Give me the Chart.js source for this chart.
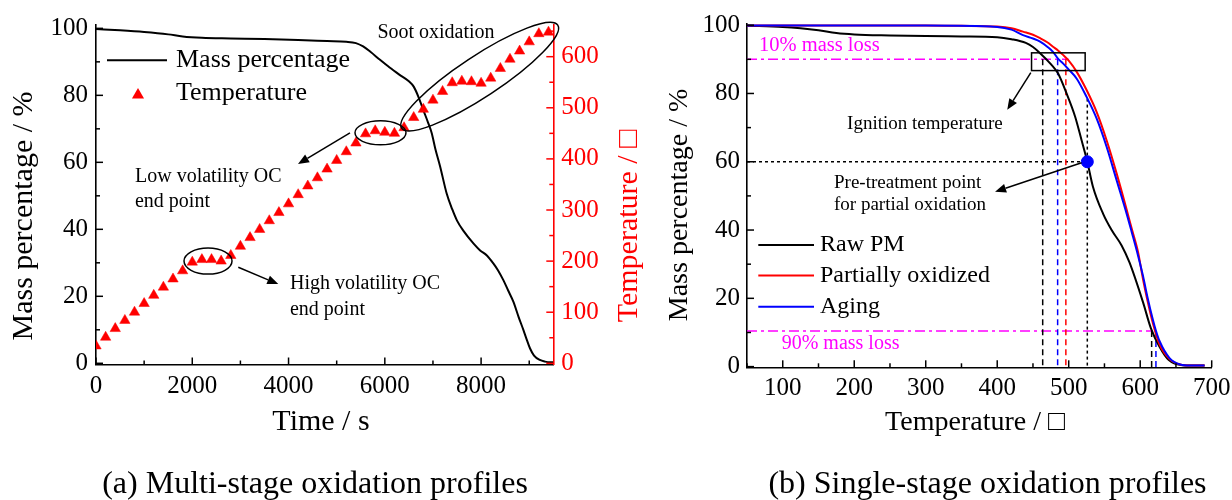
<!DOCTYPE html>
<html><head><meta charset="utf-8">
<script src="https://cdn.jsdelivr.net/npm/chart.js@4.4.1/dist/chart.umd.min.js"></script>
<style>
html,body{margin:0;padding:0;background:#fff;}
#wrap{position:relative;width:1232px;height:500px;background:#fff;}
canvas{position:absolute;left:0;top:0;}
</style></head><body>
<div id="wrap"><canvas id="ca" width="1232" height="500"></canvas><canvas id="cb" width="1232" height="500"></canvas></div>
<script>
// ---------- Panel (a): multi-stage oxidation ----------
const massTime  = [0,500,1000,1500,1800,2200,2800,3500,4200,4800,5200,5400,5550,5700,5900,6100,6300,6500,6600,6700,6800,6900,6975,7050,7150,7285,7400,7500,7630,7840,7980,8120,8250,8350,8460,8560,8670,8780,8880,8950,9015,9100,9220,9330,9430,9500];
const massValue = [99.8,99.4,98.9,98.2,97.6,97.2,97.0,96.8,96.5,96.2,96.0,95.6,94.6,93.0,90.6,88.3,86.2,84.2,82.6,79.5,75.6,71.8,68.7,64.0,58.7,50.7,46.0,42.6,39.6,35.8,33.7,32.2,29.9,27.8,24.9,21.8,18.4,13.8,9.9,7.0,4.5,2.3,1.0,0.5,0.3,0.3];
const tempTime  = [0,200,400,600,800,1000,1200,1400,1600,1800,2000,2200,2400,2600,2800,3000,3200,3400,3600,3800,4000,4200,4400,4600,4800,5000,5200,5400,5600,5800,6000,6200,6400,6600,6800,7000,7200,7400,7600,7800,8000,8200,8400,8600,8800,9000,9200,9400];
const tempValue = [34,51,68,84,100,117,133,149,165,181,198,203,203,200,211,229,246,262,279,295,312,330,347,363,380,397,414,431,449,455,452,450,461,481,497,515,532,549,552,551,548,558,577,595,611,629,645,648];
const timeTicks = [0,2000,4000,6000,8000];

// ---------- Panel (b): single-stage oxidation ----------
const rawTemp    = [50,100,125,150,175,200,250,300,350,400,420,440,450,460,475,485,497,509,518,526,534,548,560,574,585,604,615,627,640,659,680,690];
const rawMass    = [99.85,99.5,99.1,98.5,97.7,97.3,97.0,96.8,96.7,96.5,95.9,94.8,93.6,91.8,88.6,85.9,80.0,73.2,66.3,60.0,52.6,44.8,40.0,35.5,30.5,18.8,11.2,5.8,1.9,0.4,0.3,0.3];
const partTemp   = [50,200,300,350,400,420,436,450,460,470,478,485,492,500,511,525,539,553,567,581,588,597,604,610,618,627,641,656,670,690];
const partMass   = [99.9,99.9,99.9,99.8,99.6,99.1,98.1,97.2,96.2,95.0,93.7,92.6,91.3,89.6,86.4,81.0,74.6,66.3,56.6,46.0,40.5,33.5,25.5,19.5,12.5,6.5,2.2,0.6,0.3,0.3];
const agingTemp  = [50,200,300,400,420,436,450,460,470,478,485,492,500,511,525,539,553,567,581,588,597,604,610,618,622,627,641,656,670,690];
const agingMass  = [99.9,99.9,99.9,99.5,98.7,97.1,96.1,95.2,93.7,92.2,90.2,88.8,87.0,84.4,79.0,72.7,64.4,54.6,44.8,39.5,32.5,26.5,20.5,13.5,10.5,7.5,2.5,0.6,0.3,0.3];
const lossLevels = [90, 10.4];          // 10% and 90% mass loss
const ignitionT  = [463.6, 496, 484.5]; // Raw PM, Partially oxidized, Aging
const burnoutT   = [616, 622];          // Raw PM, Aging
const pretreatPoint = [526, 60];
const tempTicks  = [100,200,300,400,500,600,700];

const SERIF = '"Liberation Serif","Times New Roman",serif';
const F = s => s + 'px ' + SERIF;
const BLACK='#000000', RED='#ff0000', BLUE='#0000ff', MAGENTA='#ff00ff';
const plain = v => String(v);

function drawTicks(ctx, scale, major, minor, color){
  ctx.save(); ctx.strokeStyle=color; ctx.lineWidth=1.5;
  const i0=Math.ceil(scale.min/minor-1e-9), i1=Math.floor(scale.max/minor+1e-9);
  for(let i=i0;i<=i1;i++){
    const v=i*minor;
    const isMajor=Math.abs(v/major-Math.round(v/major))<1e-6;
    const L=isMajor?7:4, p=scale.getPixelForValue(v);
    ctx.beginPath();
    if(scale.isHorizontal()){ctx.moveTo(p,scale.top);ctx.lineTo(p,scale.top-L);}
    else if(scale.position==='left'){ctx.moveTo(scale.right,p);ctx.lineTo(scale.right+L,p);}
    else {ctx.moveTo(scale.left,p);ctx.lineTo(scale.left-L,p);}
    ctx.stroke();
  }
  ctx.restore();
}
function arrow(ctx,x1,y1,x2,y2){
  const a=Math.atan2(y2-y1,x2-x1), hl=11, hw=4.5;
  const bx=x2-hl*Math.cos(a), by=y2-hl*Math.sin(a);
  ctx.save(); ctx.strokeStyle=BLACK; ctx.fillStyle=BLACK; ctx.lineWidth=1.5;
  ctx.beginPath(); ctx.moveTo(x1,y1); ctx.lineTo(bx,by); ctx.stroke();
  ctx.beginPath(); ctx.moveTo(x2,y2);
  ctx.lineTo(bx+hw*Math.sin(a), by-hw*Math.cos(a));
  ctx.lineTo(bx-hw*Math.sin(a), by+hw*Math.cos(a));
  ctx.closePath(); ctx.fill(); ctx.restore();
}
function text(ctx,t,x,y,size,color,align,base){
  ctx.save(); ctx.font=F(size); ctx.fillStyle=color||BLACK;
  ctx.textAlign=align||'left'; ctx.textBaseline=base||'middle';
  ctx.fillText(t,x,y); ctx.restore();
}
function vtext(ctx,t,x,y,size,color){
  ctx.save(); ctx.translate(x,y); ctx.rotate(-Math.PI/2);
  ctx.font=F(size); ctx.fillStyle=color; ctx.textAlign='center'; ctx.textBaseline='alphabetic';
  ctx.fillText(t,0,0); ctx.restore();
}
function tri(ctx,x,y,r,color){
  ctx.save(); ctx.fillStyle=color; ctx.beginPath();
  ctx.moveTo(x,y-r); ctx.lineTo(x+0.866*r,y+r/2); ctx.lineTo(x-0.866*r,y+r/2);
  ctx.closePath(); ctx.fill(); ctx.restore();
}

const pluginA = {
  id:'decorA',
  afterDraw(chart){
    const {ctx, chartArea:ca, scales:{x,y,y2}} = chart;
    drawTicks(ctx,x,2000,1000,BLACK);
    drawTicks(ctx,y,20,10,BLACK);
    drawTicks(ctx,y2,100,50,RED);
    const X=v=>x.getPixelForValue(v), Y=v=>y.getPixelForValue(v), T=v=>y2.getPixelForValue(v);
    ctx.save(); ctx.strokeStyle=BLACK; ctx.lineWidth=1.5;
    ctx.beginPath(); ctx.ellipse(X(2327),T(200),24,13,0,0,2*Math.PI); ctx.stroke();
    ctx.beginPath(); ctx.ellipse(X(5910),T(451),25.5,12,0,0,2*Math.PI); ctx.stroke();
    ctx.beginPath(); ctx.ellipse(X(7971),T(561),93.5,20.5,-0.583,0,2*Math.PI); ctx.stroke();
    ctx.restore();
    arrow(ctx,X(5276),T(451),X(4196),T(390));
    arrow(ctx,X(2956),T(188),X(3787),T(155));
    text(ctx,'Soot oxidation',X(7063),Y(98.6),20,BLACK,'center');
    text(ctx,'Low volatility OC',X(810),Y(55.7),20);
    text(ctx,'end point',X(810),Y(48.2),20);
    text(ctx,'High volatility OC',X(4030),Y(23.7),20);
    text(ctx,'end point',X(4030),Y(15.9),20);
    const ds=chart.data.datasets;
    ctx.save(); ctx.strokeStyle=BLACK; ctx.lineWidth=2;
    ctx.beginPath(); ctx.moveTo(ca.left+11,60.3); ctx.lineTo(ca.left+71,60.3); ctx.stroke(); ctx.restore();
    text(ctx,ds[0].label,ca.left+80,60.3,26);
    tri(ctx,ca.left+42,95,7,RED);
    text(ctx,ds[1].label,ca.left+80,93,26);
    vtext(ctx,'Mass percentage / %',32,216,30,BLACK);
    vtext(ctx,'Temperature / \u25A1',637,226,30,RED);
    text(ctx,'Time / s',321,430,30,BLACK,'center','alphabetic');
    text(ctx,'(a) Multi-stage oxidation profiles',315,493,32,BLACK,'center','alphabetic');
  }
};

new Chart(document.getElementById('ca'), {
  type:'line',
  data:{datasets:[
    {label:'Mass percentage', data:massTime.map((t,i)=>({x:t,y:massValue[i]})), yAxisID:'y',
     borderColor:BLACK, borderWidth:2, pointRadius:0, cubicInterpolationMode:'monotone', order:2},
    {label:'Temperature', data:tempTime.map((t,i)=>({x:t,y:tempValue[i]})), yAxisID:'y2', showLine:false,
     pointStyle:'triangle', pointRadius:6, pointBackgroundColor:RED, pointBorderColor:RED, pointBorderWidth:0.5, order:1}
  ]},
  options:{
    responsive:false, animation:false, events:[],
    layout:{padding:{top:25,left:0,right:0,bottom:0}},
    plugins:{legend:{display:false}, tooltip:{enabled:false}},
    scales:{
      x:{type:'linear', position:'bottom', min:0, max:9500,
         grid:{display:false, drawTicks:false}, border:{display:true,color:BLACK,width:1.6},
         afterBuildTicks(s){ s.ticks = timeTicks.map(v=>({value:v})); },
         ticks:{padding:7, color:BLACK, font:{family:SERIF,size:25}, maxRotation:0, autoSkip:false, callback:plain},
         afterFit(s){ s.height=500-364.5; s.paddingLeft=0; s.paddingRight=0; }},
      y:{type:'linear', position:'left', min:-0.36, max:101,
         grid:{display:false, drawTicks:false}, border:{display:true,color:BLACK,width:1.6},
         ticks:{stepSize:20, includeBounds:false, padding:8, color:BLACK, font:{family:SERIF,size:25}, callback:plain},
         afterFit(s){ s.width=96; s.paddingTop=0; s.paddingBottom=0; }},
      y2:{type:'linear', position:'right', min:-2.3, max:662,
         grid:{display:false, drawTicks:false}, border:{display:true,color:RED,width:1.6},
         ticks:{stepSize:100, includeBounds:false, padding:8, color:RED, font:{family:SERIF,size:25}, callback:plain},
         afterFit(s){ s.width=1232-553.3; s.paddingTop=0; s.paddingBottom=0; }}
    }
  },
  plugins:[pluginA]
});

const pluginB = {
  id:'decorB',
  afterDraw(chart){
    const {ctx, scales:{x,y}} = chart;
    drawTicks(ctx,x,100,50,BLACK);
    drawTicks(ctx,y,20,10,BLACK);
    const X=v=>x.getPixelForValue(v), Y=v=>y.getPixelForValue(v);
    ctx.save(); ctx.strokeStyle=BLACK; ctx.lineWidth=1.5;
    ctx.strokeRect(X(448),Y(91.9),X(523)-X(448),Y(86.7)-Y(91.9)); ctx.restore();
    arrow(ctx,X(447),Y(86.1),X(414),Y(75.2));
    arrow(ctx,X(518),Y(59.7),X(397),Y(51.2));
    text(ctx,'Ignition temperature',X(190),Y(71.1),19);
    text(ctx,'Pre-treatment point',X(171.7),Y(53.9),19);
    text(ctx,'for partial oxidation',X(171.7),Y(47.3),19);
    text(ctx,'10% mass loss',X(66.8),Y(93.9),20.5,MAGENTA);
    text(ctx,'90% mass loss',X(98.5),Y(6.8),20,MAGENTA);
    const ds=chart.data.datasets, ly=[245,275.5,306.7];
    for(let i=0;i<3;i++){
      ctx.save(); ctx.strokeStyle=ds[i].borderColor; ctx.lineWidth=2;
      ctx.beginPath(); ctx.moveTo(758.3,ly[i]); ctx.lineTo(814,ly[i]); ctx.stroke(); ctx.restore();
      text(ctx,ds[i].label,820,ly[i],24);
    }
    vtext(ctx,'Mass percentage / %',687,205,28,BLACK);
    text(ctx,'Temperature / \u25A1',975,430,28,BLACK,'center','alphabetic');
    text(ctx,'(b) Single-stage oxidation profiles',987.5,493,32,BLACK,'center','alphabetic');
  }
};

const pts=(xs,ys)=>xs.map((v,i)=>({x:v,y:ys[i]}));
const refLine=(data,color,dash,order)=>({label:'', data, borderColor:color, borderWidth:1.5, borderDash:dash, pointRadius:0, order});
const yBottom=-0.2;
new Chart(document.getElementById('cb'), {
  type:'line',
  data:{datasets:[
    {label:'Raw PM', data:pts(rawTemp,rawMass), borderColor:BLACK, borderWidth:2, pointRadius:0, cubicInterpolationMode:'monotone', order:3},
    {label:'Partially oxidized', data:pts(partTemp,partMass), borderColor:RED, borderWidth:2, pointRadius:0, cubicInterpolationMode:'monotone', order:2},
    {label:'Aging', data:pts(agingTemp,agingMass), borderColor:BLUE, borderWidth:2, pointRadius:0, cubicInterpolationMode:'monotone', order:1},
    refLine([{x:50,y:lossLevels[0]},{x:500,y:lossLevels[0]}],MAGENTA,[10,4,3,4],6),
    refLine([{x:50,y:lossLevels[1]},{x:burnoutT[0],y:lossLevels[1]}],MAGENTA,[10,4,3,4],6),
    refLine([{x:ignitionT[0],y:lossLevels[0]},{x:ignitionT[0],y:yBottom}],BLACK,[6,4],5),
    refLine([{x:ignitionT[1],y:lossLevels[0]},{x:ignitionT[1],y:yBottom}],RED,[6,4],5),
    refLine([{x:ignitionT[2],y:lossLevels[0]},{x:ignitionT[2],y:yBottom}],BLUE,[6,4],5),
    refLine([{x:burnoutT[0],y:lossLevels[1]},{x:burnoutT[0],y:yBottom}],BLACK,[6,4],5),
    refLine([{x:burnoutT[1],y:lossLevels[1]},{x:burnoutT[1],y:yBottom}],BLUE,[6,4],5),
    refLine([{x:50,y:pretreatPoint[1]},{x:pretreatPoint[0],y:pretreatPoint[1]}],BLACK,[3,3],5),
    refLine([{x:pretreatPoint[0],y:78.5},{x:pretreatPoint[0],y:yBottom}],BLACK,[3,3],5),
    {label:'', data:[{x:pretreatPoint[0],y:pretreatPoint[1]}], showLine:false, pointRadius:6, pointBackgroundColor:BLUE, pointBorderColor:BLUE, order:0}
  ]},
  options:{
    responsive:false, animation:false, events:[],
    layout:{padding:{top:23.3,left:0,right:1232-1211.7,bottom:0}},
    plugins:{legend:{display:false}, tooltip:{enabled:false}},
    scales:{
      x:{type:'linear', position:'bottom', min:50, max:700,
         grid:{display:false, drawTicks:false}, border:{display:true,color:BLACK,width:1.6},
         afterBuildTicks(s){ s.ticks = tempTicks.map(v=>({value:v})); },
         ticks:{padding:6, color:BLACK, font:{family:SERIF,size:25}, maxRotation:0, autoSkip:false, callback:plain},
         afterFit(s){ s.height=500-367.3; s.paddingLeft=0; s.paddingRight=0; }},
      y:{type:'linear', position:'left', min:yBottom, max:100.55,
         grid:{display:false, drawTicks:false}, border:{display:true,color:BLACK,width:1.6},
         ticks:{stepSize:20, includeBounds:false, padding:7, color:BLACK, font:{family:SERIF,size:25}, callback:plain},
         afterFit(s){ s.width=747; s.paddingTop=0; s.paddingBottom=0; }}
    }
  },
  plugins:[pluginB]
});
</script>
</body></html>
